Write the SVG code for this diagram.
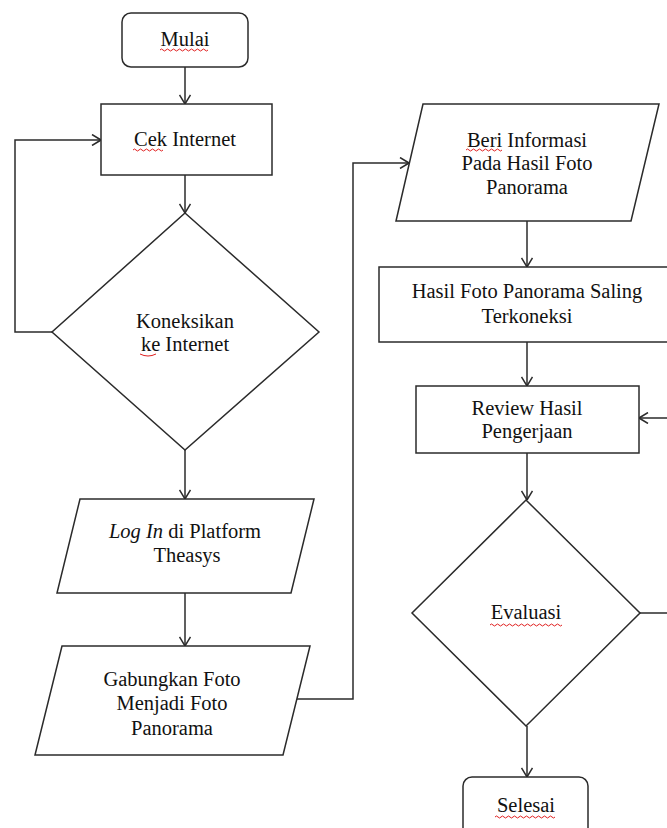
<svg xmlns="http://www.w3.org/2000/svg" width="667" height="828" viewBox="0 0 667 828">
<style>
.s{fill:#fff;stroke:#2b2b2b;stroke-width:1.5}
.c{fill:none;stroke:#2b2b2b;stroke-width:1.5}
text{font-family:"Liberation Serif","Times New Roman",serif;font-size:20.5px;fill:#111;text-anchor:middle}
.w{fill:none;stroke:#e02020;stroke-width:1}
</style>
<defs>
<marker id="a" viewBox="0 0 10 12" refX="10" refY="6" markerWidth="10" markerHeight="12" markerUnits="userSpaceOnUse" orient="auto">
<path d="M1,0.5 L10,6 L1,11.5" fill="none" stroke="#2b2b2b" stroke-width="1.5"/>
</marker>
</defs>
<rect width="667" height="828" fill="#fff"/>
<g id="connectors">
<path class="c" d="M185,67 V104" marker-end="url(#a)"/>
<path class="c" d="M185,175 V213" marker-end="url(#a)"/>
<path class="c" d="M52,332 H15 V140 H101" marker-end="url(#a)"/>
<path class="c" d="M185,450 V499" marker-end="url(#a)"/>
<path class="c" d="M185,593 V646" marker-end="url(#a)"/>
<path class="c" d="M297,699 H353 V163 H409" marker-end="url(#a)"/>
<path class="c" d="M527,221 V267" marker-end="url(#a)"/>
<path class="c" d="M527,342 V386" marker-end="url(#a)"/>
<path class="c" d="M527,453 V500" marker-end="url(#a)"/>
<path class="c" d="M527,726 V777" marker-end="url(#a)"/>
<path class="c" d="M640,613 H675 V418 H639" marker-end="url(#a)"/>
</g>
<g id="mulai">
<rect class="s" x="122" y="13" width="126" height="54" rx="9"/>
<text x="185" y="46">Mulai</text>
<path class="w" d="M160,50 q1.5,-2 3,0 t3,0 t3,0 t3,0 t3,0 t3,0 t3,0 t3,0 t3,0 t3,0 t3,0 t3,0 t3,0 t3,0 t3,0 t3,0"/>
</g>
<g id="cek-internet">
<rect class="s" x="101" y="104" width="171" height="71"/>
<text x="185" y="146">Cek Internet</text>
<path class="w" d="M133,150 q1.5,-2 3,0 t3,0 t3,0 t3,0 t3,0 t3,0 t3,0 t3,0 t3,0 t3,0"/>
</g>
<g id="koneksikan">
<polygon class="s" points="185,213 319,332 185,450 52,332"/>
<text x="185" y="328">Koneksikan</text>
<text x="185" y="351">ke Internet</text>
<path class="w" d="M140,354 q8,4 16,0"/>
</g>
<g id="login">
<polygon class="s" points="80,499 314,499 291,593 57,593"/>
<text x="185" y="538"><tspan font-style="italic">Log In</tspan> di Platform</text>
<text x="187" y="562">Theasys</text>
</g>
<g id="gabungkan">
<polygon class="s" points="62,646 310,646 283,755 35,755"/>
<text x="172" y="686">Gabungkan Foto</text>
<text x="172" y="710">Menjadi Foto</text>
<text x="172" y="735">Panorama</text>
</g>
<g id="beri-informasi">
<polygon class="s" points="423,104 659,104 631,221 396,221"/>
<text x="527" y="147">Beri Informasi</text>
<text x="527" y="170">Pada Hasil Foto</text>
<text x="527" y="194">Panorama</text>
<path class="w" d="M466,150 q1.5,-2 3,0 t3,0 t3,0 t3,0 t3,0 t3,0 t3,0 t3,0 t3,0 t3,0 t3,0 t3,0"/>
</g>
<g id="hasil-foto">
<rect class="s" x="379" y="267" width="310" height="75"/>
<text x="527" y="298">Hasil Foto Panorama Saling</text>
<text x="527" y="323">Terkoneksi</text>
</g>
<g id="review">
<rect class="s" x="416" y="386" width="223" height="67"/>
<text x="527" y="415">Review Hasil</text>
<text x="527" y="438">Pengerjaan</text>
</g>
<g id="evaluasi">
<polygon class="s" points="526,500 640,613 526,726 412,613"/>
<text x="526" y="619">Evaluasi</text>
<path class="w" d="M490,625 q1.5,-2 3,0 t3,0 t3,0 t3,0 t3,0 t3,0 t3,0 t3,0 t3,0 t3,0 t3,0 t3,0 t3,0 t3,0 t3,0 t3,0 t3,0 t3,0 t3,0 t3,0 t3,0 t3,0 t3,0 t3,0"/>
</g>
<g id="selesai">
<rect class="s" x="463" y="777" width="125" height="70" rx="9"/>
<text x="526" y="812">Selesai</text>
<path class="w" d="M495,817 q1.5,-2 3,0 t3,0 t3,0 t3,0 t3,0 t3,0 t3,0 t3,0 t3,0 t3,0 t3,0 t3,0 t3,0 t3,0 t3,0 t3,0 t3,0 t3,0 t3,0 t3,0"/>
</g>
</svg>
